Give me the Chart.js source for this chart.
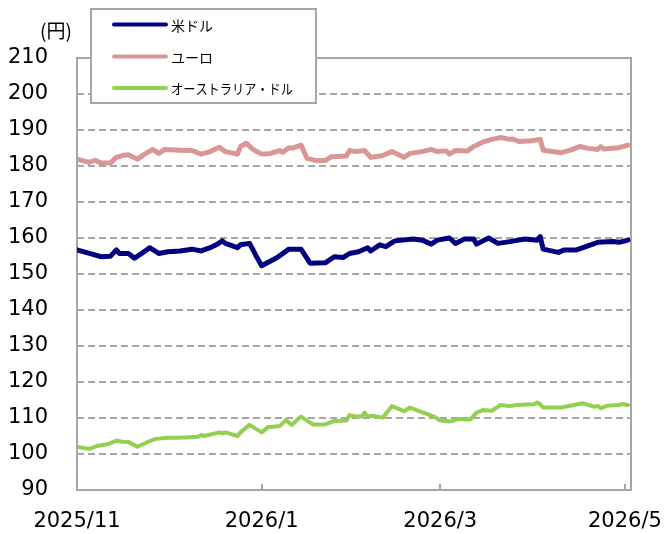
<!DOCTYPE html>
<html>
<head>
<meta charset="utf-8">
<script src="https://cdn.jsdelivr.net/npm/chart.js@4"></script>
<style>
  body { margin: 0; background: #fff; }
  #wrap { width: 666px; height: 534px; }
</style>
</head>
<body>
<div id="wrap"><canvas id="fxChart" width="666" height="534"></canvas></div>
<script>
// days counted from 2025/11/1
const tickDays = [0, 61, 120, 181];
const tickLabels = ["2025/11", "2026/1", "2026/3", "2026/5"];
const seriesNames = ["米ドル", "ユーロ", "オーストラリア・ドル"];

const usdDays = [0,5,8,11,13,14,17,19,21,24,27,30,34,38,41,44,46,48,49,53,54,57,59,61,66,70,74,77,82,85,88,90,93,96,97,100,102,105,111,114,117,119,123,125,128,131,132,136,139,143,148,152,153,154,159,161,165,169,172,177,179,182];
const usdRates = [156.7,155.5,154.8,154.9,156.7,155.7,155.7,154.4,155.5,157.3,155.7,156.2,156.4,156.9,156.4,157.3,158.1,159.2,158.5,157.3,158.1,158.5,155.3,152.3,154.5,156.9,156.9,153.0,153.1,154.8,154.6,155.7,156.2,157.3,156.4,158.1,157.6,159.2,159.7,159.4,158.3,159.4,160.0,158.5,159.7,159.7,158.3,160.0,158.5,159.0,159.7,159.4,160.4,156.9,156.0,156.7,156.7,157.9,158.8,159.0,158.8,159.4];

const eurDays = [0,4,6,8,11,13,15,17,20,22,25,27,29,34,38,41,44,47,49,53,54,56,58,61,64,67,68,70,71,74,76,79,82,84,89,90,92,95,97,101,104,108,110,114,117,119,122,123,125,129,131,134,137,140,143,144,146,150,153,154,160,163,166,169,172,173,174,179,182];
const eurRates = [181.9,181.0,181.6,180.8,180.8,182.4,182.9,183.1,181.9,183.1,184.6,183.5,184.6,184.4,184.3,183.3,184.0,185.2,184.0,183.3,185.4,186.3,184.7,183.3,183.5,184.3,183.8,185.1,184.9,185.8,182.1,181.5,181.5,182.6,182.8,184.3,184.0,184.3,182.4,182.9,184.0,182.4,183.5,184.0,184.6,184.0,184.2,183.3,184.3,184.2,185.4,186.6,187.4,187.9,187.4,187.5,186.8,187.0,187.4,184.4,183.7,184.4,185.4,184.9,184.6,185.4,184.7,185.1,185.8];

const audDays = [0,4,7,10,13,15,17,20,24,26,30,33,36,40,41,42,47,48,49,53,54,57,61,63,67,69,71,74,78,82,85,89,90,92,94,95,96,98,101,104,108,110,113,116,117,118,120,123,126,130,132,134,137,140,143,145,151,152,153,154,160,167,171,172,173,175,179,180,182];
const audRates = [102.0,101.4,102.3,102.7,103.7,103.4,103.3,102.0,103.6,104.2,104.5,104.5,104.6,104.8,105.3,105.0,106.0,105.7,106.0,105.0,106.0,108.1,106.0,107.4,107.8,109.4,108.1,110.4,108.2,108.2,109.2,109.3,110.8,110.4,110.4,111.5,110.4,110.6,110.1,113.3,111.9,112.9,111.9,111.0,110.6,110.4,109.3,109.0,109.7,109.6,111.5,112.2,112.0,113.6,113.3,113.6,113.8,114.3,113.8,112.9,112.9,114.1,113.1,113.4,112.7,113.4,113.6,113.9,113.6];

const gridGray = "#a6a6a6";
const numFont = "'DejaVu Sans', Verdana, sans-serif";
const jpFont = "'Noto Sans CJK JP', sans-serif";

function pts(days, vals) {
  return days.map((d, i) => ({ x: d, y: vals[i] }));
}

function line(label, days, vals, color, width) {
  return {
    label: label,
    data: pts(days, vals),
    borderColor: color,
    backgroundColor: color,
    borderWidth: width,
    pointRadius: 0,
    tension: 0,
    borderJoinStyle: "round",
    borderCapStyle: "round"
  };
}

const framePlugin = {
  id: "frame",
  beforeDatasetsDraw(chart) {
    const { ctx, chartArea: a } = chart;
    ctx.save();
    ctx.strokeStyle = gridGray;
    ctx.lineWidth = 2;
    ctx.strokeRect(a.left, a.top, a.right - a.left, a.bottom - a.top);
    ctx.restore();
  },
  afterDraw(chart) {
    const ctx = chart.ctx;
    ctx.save();
    // unit label
    ctx.fillStyle = "#000";
    ctx.font = "19px " + jpFont;
    ctx.textAlign = "center";
    ctx.textBaseline = "middle";
    ctx.fillText("(円)", 56, 31);

    // legend box
    ctx.fillStyle = "#fff";
    ctx.fillRect(91, 9, 225, 94);
    ctx.strokeStyle = gridGray;
    ctx.lineWidth = 2;
    ctx.strokeRect(91, 9, 225, 94);
    const rows = [24.5, 56.5, 88];
    chart.data.datasets.forEach((ds, i) => {
      ctx.strokeStyle = ds.borderColor;
      ctx.lineWidth = 4;
      ctx.lineCap = "round";
      ctx.beginPath();
      ctx.moveTo(114, rows[i]);
      ctx.lineTo(166, rows[i]);
      ctx.stroke();
      ctx.fillStyle = "#000";
      ctx.font = "14px " + jpFont;
      ctx.textAlign = "left";
      // the long label is set tighter in the original
      ctx.fillText(ds.label, 171, rows[i] + 1, 122);
    });
    ctx.restore();
  }
};

new Chart(document.getElementById("fxChart"), {
  type: "line",
  data: {
    datasets: [
      line(seriesNames[0], usdDays, usdRates, "#000080", 5),
      line(seriesNames[1], eurDays, eurRates, "#da9694", 5),
      line(seriesNames[2], audDays, audRates, "#92d050", 4)
    ]
  },
  options: {
    responsive: false,
    animation: false,
    layout: { padding: { left: 0, top: 58, right: 35, bottom: 0 } },
    plugins: {
      legend: { display: false },
      tooltip: { enabled: false }
    },
    scales: {
      x: {
        type: "linear",
        min: 0,
        max: 183,
        afterBuildTicks: (scale) => {
          scale.ticks = tickDays.map(v => ({ value: v }));
        },
        afterFit: (scale) => {
          scale.height = 44;
          scale.paddingLeft = 0;
          scale.paddingRight = 0;
        },
        ticks: {
          autoSkip: false,
          maxRotation: 0,
          padding: 25,
          color: "#000",
          font: { family: numFont, size: 21 },
          callback: (v) => tickLabels[tickDays.indexOf(v)]
        },
        grid: {
          drawOnChartArea: false,
          drawTicks: true,
          tickLength: -6,
          color: gridGray,
          lineWidth: 2
        },
        border: { display: false }
      },
      y: {
        min: 90,
        max: 210,
        afterFit: (scale) => {
          scale.width = 77;
          scale.paddingTop = 0;
          scale.paddingBottom = 0;
        },
        ticks: {
          stepSize: 10,
          padding: 29,
          color: "#000",
          font: { family: numFont, size: 21 }
        },
        grid: {
          drawTicks: false,
          color: gridGray,
          lineWidth: 2
        },
        border: { display: false, dash: [7, 4] }
      }
    }
  },
  plugins: [framePlugin]
});
</script>
</body>
</html>
